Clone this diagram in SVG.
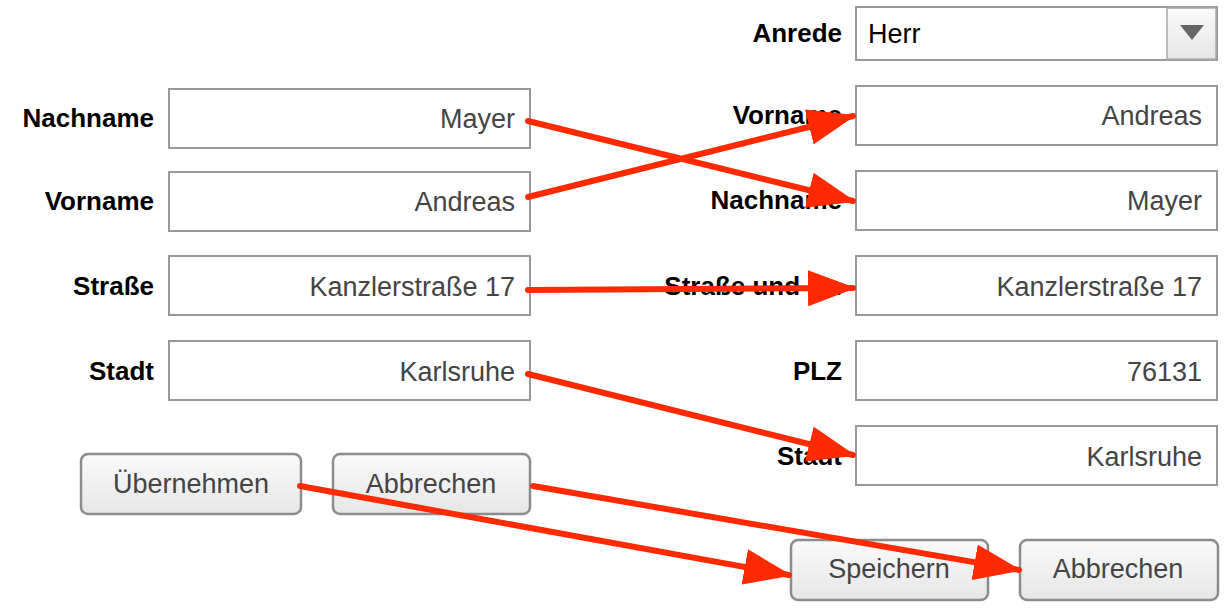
<svg xmlns="http://www.w3.org/2000/svg" width="1227" height="610" viewBox="0 0 1227 610">
<defs>
<linearGradient id="bg" x1="0" y1="0" x2="0" y2="1"><stop offset="0" stop-color="#fafafa"/><stop offset="1" stop-color="#e6e6e6"/></linearGradient>
<marker id="ah" markerWidth="8" markerHeight="6" refX="7.5" refY="3" orient="auto" markerUnits="strokeWidth"><path d="M0,0 L8,3 L0,6 Z" fill="#ff2a00"/></marker>
</defs>
<style>
.lbl{font-family:"Liberation Sans",Arial,sans-serif;font-size:26px;font-weight:bold;fill:#000;text-anchor:end}
.fld{fill:#fff;stroke:#999;stroke-width:2}
.val{font-family:"Liberation Sans",Arial,sans-serif;font-size:27px;fill:#444;text-anchor:end}
.btn{fill:url(#bg);stroke:#8c8c8c;stroke-width:2.5}
.bt{font-family:"Liberation Sans",Arial,sans-serif;font-size:27px;fill:#444;text-anchor:middle}
.arr{stroke:#ff2a00;stroke-width:6;fill:none;stroke-linecap:round;marker-end:url(#ah)}
</style>
<rect width="1227" height="610" fill="#fff"/>
<g id="l-nachname"><text class="lbl" x="154" y="127">Nachname</text><rect class="fld" x="169" y="89" width="361" height="59"/><text class="val" x="515" y="128">Mayer</text></g>
<g id="l-vorname"><text class="lbl" x="154" y="210">Vorname</text><rect class="fld" x="169" y="172" width="361" height="59"/><text class="val" x="515" y="211">Andreas</text></g>
<g id="l-strasse"><text class="lbl" x="154" y="295">Straße</text><rect class="fld" x="169" y="256" width="361" height="59"/><text class="val" x="515" y="296">Kanzlerstraße 17</text></g>
<g id="l-stadt"><text class="lbl" x="154" y="380">Stadt</text><rect class="fld" x="169" y="341" width="361" height="59"/><text class="val" x="515" y="381">Karlsruhe</text></g>
<g id="b-uebernehmen"><rect class="btn" x="81" y="454" width="220" height="60" rx="7"/><text class="bt" x="191" y="493">Übernehmen</text></g>
<g id="b-abbrechen1"><rect class="btn" x="333" y="454" width="197" height="60" rx="7"/><text class="bt" x="431" y="493">Abbrechen</text></g>
<g id="r-anrede"><text class="lbl" x="842" y="42">Anrede</text><rect class="fld" x="856" y="7" width="361" height="53"/><rect x="1167" y="8" width="49" height="51" fill="url(#bg)" stroke="#aaa" stroke-width="1.5"/><path d="M1180,25 L1204,25 L1192,40 Z" fill="#666"/><text x="868" y="43" font-family="Liberation Sans,Arial,sans-serif" font-size="27" fill="#000">Herr</text></g>
<g id="r-vorname"><text class="lbl" x="842" y="124">Vorname</text><rect class="fld" x="856" y="86" width="361" height="59"/><text class="val" x="1202" y="125">Andreas</text></g>
<g id="r-nachname"><text class="lbl" x="842" y="209">Nachname</text><rect class="fld" x="856" y="171" width="361" height="59"/><text class="val" x="1202" y="210">Mayer</text></g>
<g id="r-strasse"><text class="lbl" x="842" y="295">Straße und Nr.</text><rect class="fld" x="856" y="256" width="361" height="59"/><text class="val" x="1202" y="296">Kanzlerstraße 17</text></g>
<g id="r-plz"><text class="lbl" x="842" y="380">PLZ</text><rect class="fld" x="856" y="341" width="361" height="59"/><text class="val" x="1202" y="381">76131</text></g>
<g id="r-stadt"><text class="lbl" x="842" y="465">Stadt</text><rect class="fld" x="856" y="426" width="361" height="59"/><text class="val" x="1202" y="466">Karlsruhe</text></g>
<g id="b-speichern"><rect class="btn" x="791" y="540" width="197" height="60" rx="7"/><text class="bt" x="889" y="578">Speichern</text></g>
<g id="b-abbrechen2"><rect class="btn" x="1020" y="540" width="198" height="60" rx="7"/><text class="bt" x="1118" y="578">Abbrechen</text></g>
<g id="connectors">
<line class="arr" x1="528" y1="121" x2="853" y2="201"/>
<line class="arr" x1="528" y1="197" x2="853" y2="116"/>
<line class="arr" x1="528" y1="290" x2="853" y2="288"/>
<line class="arr" x1="528" y1="374" x2="853" y2="455"/>
<line class="arr" x1="300" y1="486" x2="789" y2="575"/>
<line class="arr" x1="533" y1="486" x2="1019" y2="570"/>
</g>
</svg>
